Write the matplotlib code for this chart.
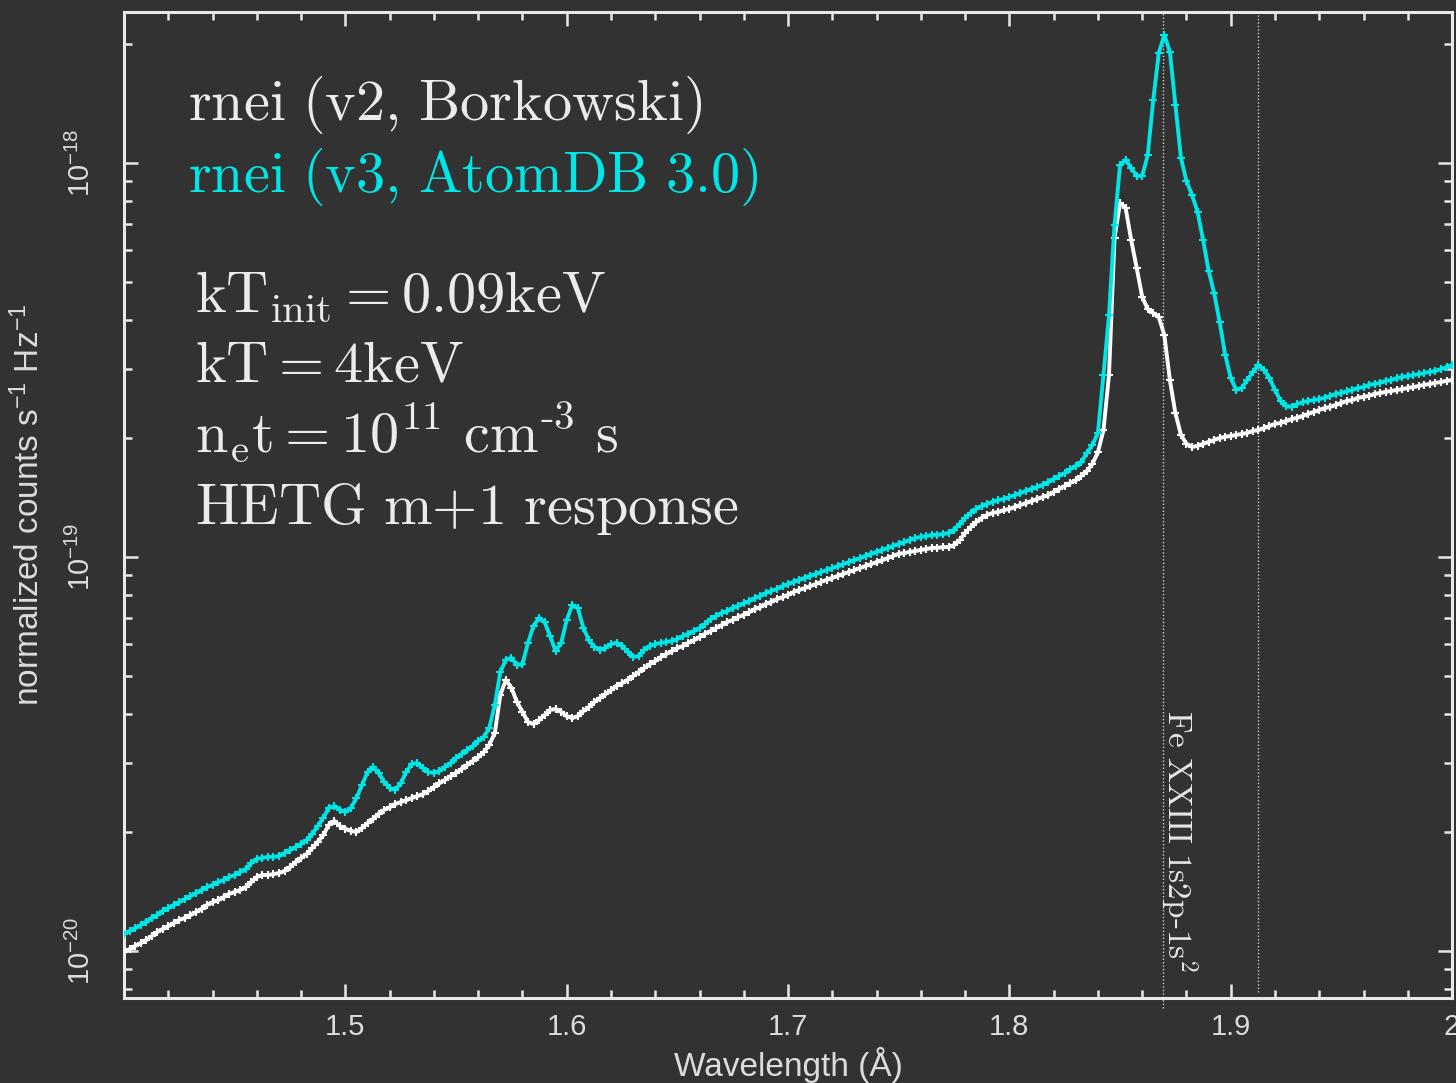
import numpy as np
import matplotlib
matplotlib.use('Agg')
import matplotlib.pyplot as plt
from matplotlib.ticker import FixedLocator, FixedFormatter, LogLocator, NullFormatter
from matplotlib import transforms

# ---- data (log10 of normalized counts/s/Hz) ----
# HETG bins, 0.0025 A wide, from 1.4 A to 2.0 A
wavelength = 1.4 + 0.0025 * np.arange(241)

log_flux_v2 = [
    -20.003, -19.995, -19.987, -19.980, -19.972, -19.962, -19.952, -19.944, -19.937, -19.929,
    -19.921, -19.916, -19.909, -19.901, -19.893, -19.883, -19.876, -19.871, -19.863, -19.855,
    -19.850, -19.845, -19.838, -19.825, -19.812, -19.807, -19.807, -19.805, -19.802, -19.797,
    -19.787, -19.774, -19.764, -19.754, -19.739, -19.723, -19.706, -19.680, -19.670, -19.683,
    -19.690, -19.695, -19.698, -19.688, -19.675, -19.665, -19.652, -19.642, -19.635, -19.627,
    -19.622, -19.617, -19.612, -19.607, -19.602, -19.594, -19.584, -19.574, -19.566, -19.556,
    -19.548, -19.538, -19.528, -19.518, -19.508, -19.495, -19.477, -19.447, -19.350, -19.312,
    -19.332, -19.368, -19.393, -19.419, -19.424, -19.414, -19.401, -19.388, -19.386, -19.393,
    -19.404, -19.409, -19.404, -19.391, -19.381, -19.368, -19.358, -19.348, -19.338, -19.327,
    -19.320, -19.312, -19.302, -19.292, -19.282, -19.272, -19.264, -19.254, -19.246, -19.239,
    -19.231, -19.226, -19.218, -19.211, -19.203, -19.195, -19.188, -19.180, -19.173, -19.165,
    -19.160, -19.152, -19.147, -19.140, -19.132, -19.127, -19.119, -19.114, -19.107, -19.102,
    -19.096, -19.089, -19.084, -19.079, -19.074, -19.069, -19.063, -19.058, -19.053, -19.048,
    -19.043, -19.038, -19.033, -19.028, -19.023, -19.018, -19.013, -19.008, -19.003, -18.997,
    -18.992, -18.990, -18.987, -18.985, -18.982, -18.980, -18.977, -18.977, -18.975, -18.975,
    -18.970, -18.957, -18.939, -18.924, -18.911, -18.901, -18.893, -18.888, -18.886, -18.881,
    -18.878, -18.873, -18.868, -18.863, -18.858, -18.853, -18.848, -18.843, -18.835, -18.827,
    -18.820, -18.812, -18.805, -18.794, -18.782, -18.764, -18.734, -18.678, -18.538, -18.190,
    -18.102, -18.114, -18.195, -18.266, -18.340, -18.371, -18.381, -18.391, -18.437, -18.551,
    -18.635, -18.690, -18.713, -18.721, -18.718, -18.713, -18.708, -18.703, -18.698, -18.695,
    -18.693, -18.690, -18.688, -18.685, -18.680, -18.678, -18.673, -18.668, -18.662, -18.660,
    -18.655, -18.650, -18.647, -18.642, -18.637, -18.632, -18.627, -18.622, -18.619, -18.614,
    -18.609, -18.604, -18.602, -18.596, -18.594, -18.591, -18.586, -18.584, -18.581, -18.579,
    -18.576, -18.574, -18.571, -18.569, -18.566, -18.563, -18.561, -18.558, -18.556, -18.553,
    -18.551]

log_flux_v3 = [
    -19.957, -19.949, -19.942, -19.934, -19.926, -19.916, -19.909, -19.898, -19.891, -19.883,
    -19.876, -19.868, -19.860, -19.853, -19.845, -19.838, -19.832, -19.825, -19.820, -19.812,
    -19.807, -19.799, -19.792, -19.777, -19.766, -19.764, -19.761, -19.761, -19.759, -19.751,
    -19.744, -19.736, -19.728, -19.718, -19.703, -19.683, -19.662, -19.637, -19.632, -19.642,
    -19.647, -19.637, -19.612, -19.579, -19.546, -19.533, -19.548, -19.571, -19.586, -19.591,
    -19.574, -19.546, -19.525, -19.523, -19.536, -19.546, -19.548, -19.543, -19.533, -19.523,
    -19.510, -19.500, -19.490, -19.480, -19.467, -19.457, -19.434, -19.376, -19.292, -19.261,
    -19.256, -19.274, -19.272, -19.218, -19.175, -19.155, -19.165, -19.201, -19.239, -19.218,
    -19.160, -19.122, -19.129, -19.180, -19.211, -19.228, -19.236, -19.231, -19.221, -19.218,
    -19.226, -19.241, -19.254, -19.251, -19.236, -19.226, -19.221, -19.218, -19.216, -19.213,
    -19.208, -19.201, -19.195, -19.188, -19.180, -19.170, -19.157, -19.150, -19.142, -19.137,
    -19.129, -19.124, -19.117, -19.112, -19.104, -19.099, -19.091, -19.086, -19.081, -19.074,
    -19.069, -19.063, -19.058, -19.053, -19.048, -19.043, -19.038, -19.033, -19.028, -19.023,
    -19.018, -19.013, -19.008, -19.003, -18.997, -18.992, -18.987, -18.982, -18.977, -18.972,
    -18.967, -18.962, -18.957, -18.952, -18.949, -18.947, -18.944, -18.944, -18.942, -18.939,
    -18.931, -18.916, -18.901, -18.888, -18.878, -18.871, -18.865, -18.860, -18.855, -18.853,
    -18.848, -18.843, -18.838, -18.832, -18.827, -18.822, -18.817, -18.810, -18.802, -18.794,
    -18.787, -18.777, -18.769, -18.759, -18.736, -18.716, -18.685, -18.538, -18.386, -18.157,
    -18.005, -17.992, -18.013, -18.033, -18.033, -17.980, -17.840, -17.721, -17.675, -17.718,
    -17.853, -17.987, -18.046, -18.081, -18.124, -18.195, -18.274, -18.330, -18.404, -18.487,
    -18.546, -18.576, -18.571, -18.551, -18.530, -18.513, -18.525, -18.546, -18.576, -18.604,
    -18.617, -18.619, -18.612, -18.607, -18.604, -18.602, -18.599, -18.596, -18.591, -18.586,
    -18.584, -18.579, -18.576, -18.571, -18.569, -18.563, -18.561, -18.558, -18.553, -18.551,
    -18.546, -18.543, -18.541, -18.538, -18.536, -18.533, -18.530, -18.528, -18.523, -18.518,
    -18.513]

line_marks = [1.8696, 1.9125]          # dotted vertical markers
line_label = r'$\mathrm{Fe\ XXIII\ 1s2p\text{-}1s^2}$'

xtick_vals = [1.5, 1.6, 1.7, 1.8, 1.9, 2.0]
xtick_labels = ['1.5', '1.6', '1.7', '1.8', '1.9', '2']
ytick_vals = [1e-20, 1e-19, 1e-18]
ytick_labels = [r'$10^{-20}$', r'$10^{-19}$', r'$10^{-18}$']

info_lines = [
    (r'$\mathrm{rnei\ (v2{,}\ Borkowski)}$', '#ebebeb'),
    (r'$\mathrm{rnei\ (v3{,}\ AtomDB\ 3.0)}$', '#00e6e6'),
    (r'$\mathrm{kT_{init} = 0.09keV}$', '#ebebeb'),
    (r'$\mathrm{kT = 4keV}$', '#ebebeb'),
    (r'$\mathrm{n_et = 10^{11}\ cm^{\text{-}3}\ s}$', '#ebebeb'),
    (r'$\mathrm{HETG\ m{+}1\ response}$', '#ebebeb'),
]

# ---- style ----
bg = '#323232'
fg = '#e8e8e8'
cyan = '#00e6e6'
plt.rcParams['font.family'] = ['Liberation Sans', 'DejaVu Sans']
plt.rcParams['mathtext.fontset'] = 'custom'
plt.rcParams['mathtext.rm'] = 'Liberation Sans'
plt.rcParams['mathtext.it'] = 'Liberation Sans:italic'
plt.rcParams['mathtext.bf'] = 'Liberation Sans:bold'

fig = plt.figure(figsize=(14.56, 10.83), dpi=100, facecolor=bg)
ax = fig.add_axes([0.0852, 0.0785, 0.9121, 0.9104])
ax.set_facecolor(bg)

ax.plot(wavelength, 10 ** np.array(log_flux_v2), color='white', lw=2.8,
        marker='+', ms=6, mew=1.5, zorder=3)
ax.plot(wavelength, 10 ** np.array(log_flux_v3), color=cyan, lw=2.8,
        marker='+', ms=6, mew=1.5, zorder=4)

ax.set_yscale('log')
ax.set_xlim(1.4, 2.0)
ax.set_ylim(7.6e-21, 2.415e-18)

trans = transforms.blended_transform_factory(ax.transData, ax.transAxes)
ax.plot([line_marks[0]] * 2, [-0.01, 1.0], transform=trans, color='#cfcfcf',
        lw=1.0, ls=(0, (1, 1.5)), clip_on=False, zorder=2)
ax.plot([line_marks[1]] * 2, [0.006, 1.0], transform=trans, color='#cfcfcf',
        lw=1.0, ls=(0, (1, 1.5)), zorder=2)
ax.text(1.8714, 0.292, line_label, transform=trans, rotation=-90,
        rotation_mode='anchor', ha='left', va='baseline', fontsize=24,
        color=fg, math_fontfamily='cm')

# info text block
ys = [0.8905, 0.8174, 0.6957, 0.6247, 0.5538, 0.4807]
xs = [0.0482, 0.0482, 0.0535, 0.0535, 0.0535, 0.0535]
for (txt, col), x, y in zip(info_lines, xs, ys):
    ax.text(x, y, txt, transform=ax.transAxes, fontsize=42, color=col,
            ha='left', va='baseline', math_fontfamily='cm')

# axes frame and ticks
for sp in ax.spines.values():
    sp.set_color(fg)
    sp.set_linewidth(2.2)

ax.xaxis.set_major_locator(FixedLocator(xtick_vals))
ax.xaxis.set_major_formatter(FixedFormatter(xtick_labels))
ax.xaxis.set_minor_locator(FixedLocator(np.arange(1.42, 2.0, 0.02)))
ax.yaxis.set_major_locator(FixedLocator(ytick_vals))
ax.yaxis.set_major_formatter(FixedFormatter(ytick_labels))
ax.yaxis.set_minor_locator(LogLocator(base=10, subs=np.arange(2, 10)))
ax.yaxis.set_minor_formatter(NullFormatter())

ax.tick_params(which='both', direction='in', top=True, right=True,
               color=fg, width=1.8, labelcolor='#dcdcdc', labelsize=21)
ax.tick_params(which='major', length=10)
ax.tick_params(which='minor', length=5.5)
ax.tick_params(axis='x', pad=11)
ax.tick_params(axis='y', pad=20, labelrotation=90)
for lab in ax.get_yticklabels():
    lab.set_va('center')

ax.set_xlabel('Wavelength (Å)', fontsize=24, color='#dcdcdc')
ax.xaxis.set_label_coords(0.5, -0.05)
ax.set_ylabel(r'normalized counts s$^{-1}$ Hz$^{-1}$', fontsize=24, color='#dcdcdc')
ax.yaxis.set_label_coords(-0.059, 0.5)

fig.savefig('out.png', dpi=100, facecolor=bg)
